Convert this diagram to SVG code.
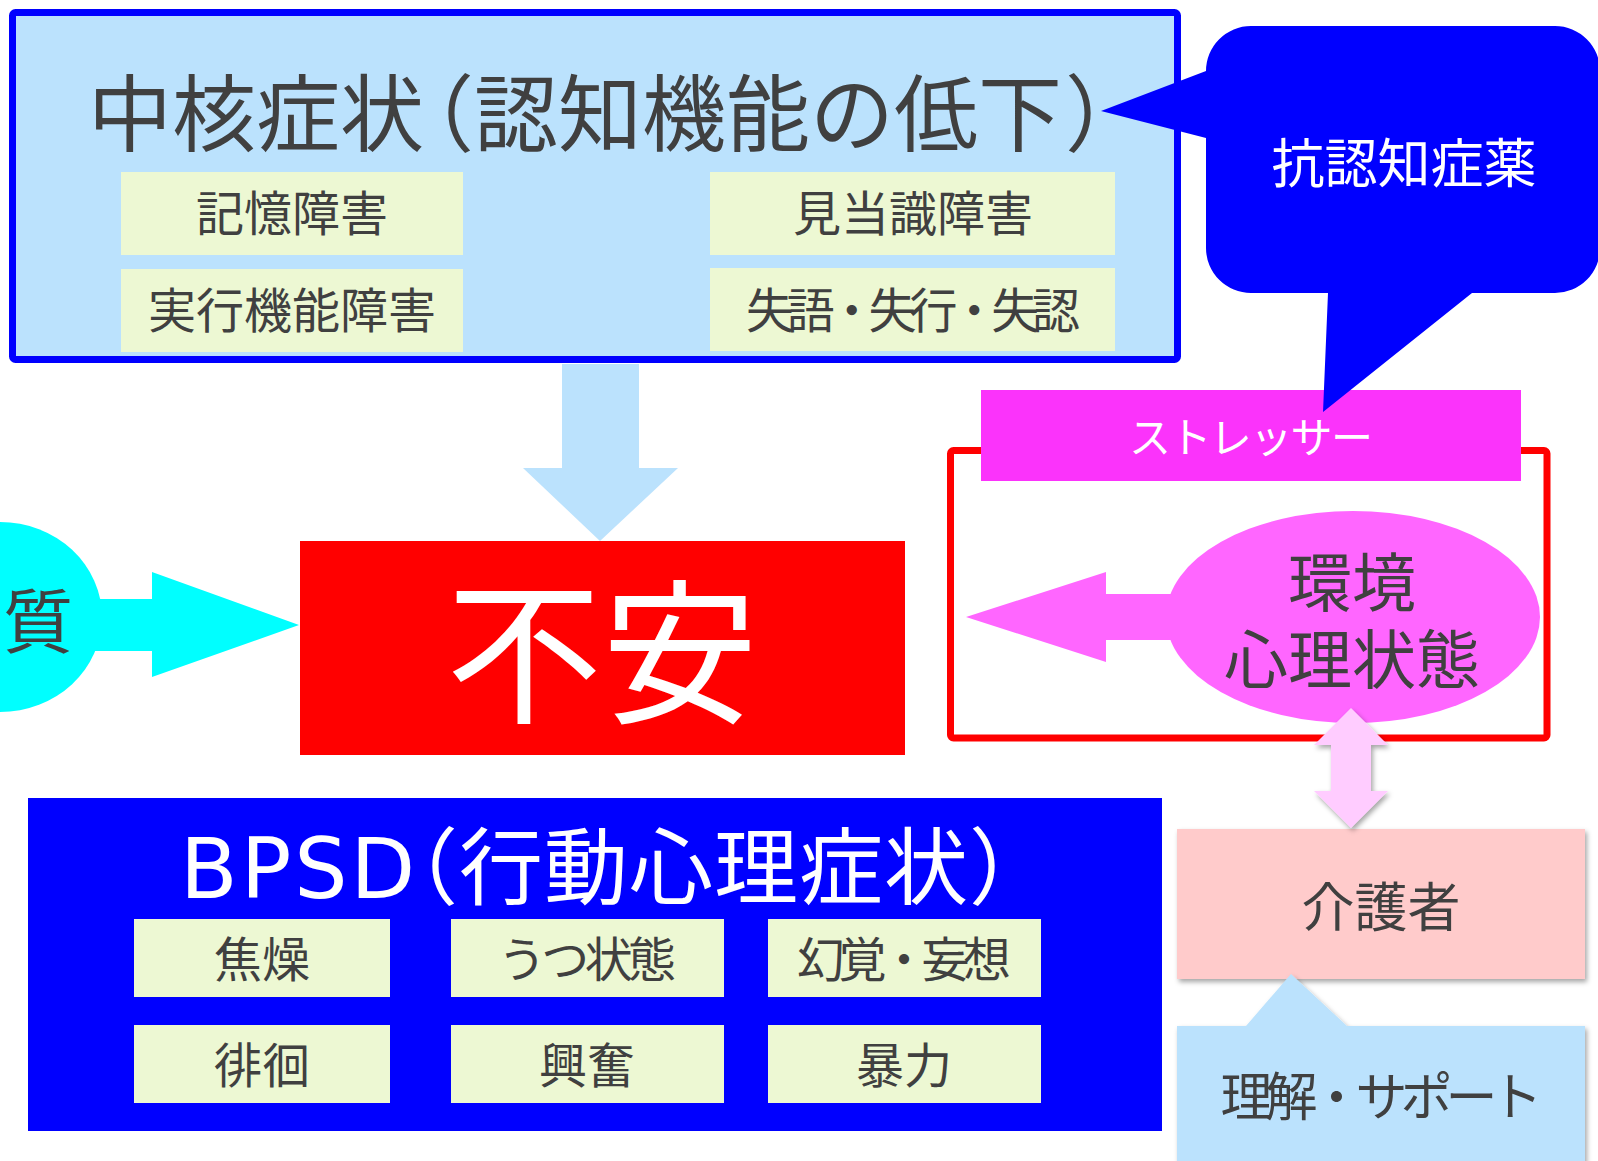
<svg xmlns="http://www.w3.org/2000/svg" width="1598" height="1161" viewBox="0 0 1598 1161">
<defs>
<style>
.t{font-family:"Noto Sans CJK JP","Noto Sans CJK SC",sans-serif;fill:#404040}
.w{fill:#FFFFFF}
.lb{fill:#BBE2FD}
.sub{fill:#EDF8D3}
.f48{font-size:48px}
.h{font-feature-settings:"halt" 1}
</style>
<filter id="sh" x="-10%" y="-10%" width="130%" height="130%">
<feDropShadow dx="2" dy="3" stdDeviation="2.5" flood-color="#000" flood-opacity="0.35"/>
</filter>
</defs>
<rect width="1598" height="1161" fill="#FFFFFF"/>

<g id="core">
<rect x="12.5" y="12.5" width="1165" height="347" rx="3" class="lb" stroke="#0000FF" stroke-width="7"/>
<text class="t" font-size="84" y="144.5"><tspan x="88">中核症状</tspan><tspan class="h" x="432">（</tspan><tspan x="474">認知機能の低下</tspan><tspan class="h" x="1065">）</tspan></text>
</g>
<g id="memory">
<rect x="121" y="172" width="342" height="83" class="sub"/>
<text class="t f48" x="292" y="230.5" text-anchor="middle">記憶障害</text>
</g>
<g id="executive">
<rect x="121" y="269" width="342" height="83" class="sub"/>
<text class="t f48" x="292" y="327.5" text-anchor="middle">実行機能障害</text>
</g>
<g id="orientation">
<rect x="710" y="172" width="405" height="83" class="sub"/>
<text class="t f48" x="913" y="230.5" text-anchor="middle">見当識障害</text>
</g>
<g id="aphasia">
<rect x="710" y="268" width="405" height="83" class="sub"/>
<text class="t f48" x="913" y="327.5" text-anchor="middle" textLength="334" lengthAdjust="spacing">失語・失行・失認</text>
</g>

<g id="frame">
<rect x="950.5" y="450.5" width="596.5" height="287.5" rx="3" fill="none" stroke="#FF0000" stroke-width="7"/>
</g>
<g id="stressor">
<rect x="981" y="390" width="540" height="91" fill="#FB33FB"/>
<text class="t w" font-size="42" x="1251" y="453" text-anchor="middle" textLength="244" lengthAdjust="spacing">ストレッサー</text>
</g>
<g id="environment">
<ellipse cx="1353" cy="617" rx="187" ry="106" fill="#FF66FF"/>
<text class="t" font-size="64" text-anchor="middle"><tspan x="1352" y="606">環境</tspan><tspan x="1352" y="683">心理状態</tspan></text>
</g>

<g id="medicine">
<path d="M1251,26 H1555 A45,45 0 0 1 1600,71 V248 A45,45 0 0 1 1555,293 H1472 L1323,412 L1328,293 H1251 A45,45 0 0 1 1206,248 V138 L1101,111 L1206,71 A45,45 0 0 1 1251,26 Z" fill="#0000FF"/>
<text class="t w" font-size="53" x="1404" y="182.5" text-anchor="middle">抗認知症薬</text>
</g>

<g id="anxiety">
<rect x="300" y="541" width="605" height="214" fill="#FF0000"/>
<text class="t w" font-size="156" x="602" y="711" text-anchor="middle">不安</text>
</g>

<g id="nature">
<ellipse cx="0" cy="617" rx="102" ry="95" fill="#00FFFF"/>
<text class="t" font-size="70" x="38" y="647.5" text-anchor="middle">質</text>
</g>

<g id="bpsd">
<rect x="28" y="798" width="1134" height="333" fill="#0000FF"/>
<text class="t w" font-size="84" y="898"><tspan x="180" font-family="DejaVu Sans, sans-serif" letter-spacing="3">BPSD</tspan><tspan class="h" x="416">（</tspan><tspan x="459" letter-spacing="1">行動心理症状</tspan><tspan class="h" x="969">）</tspan></text>
</g>
<g id="irritation">
<rect x="134" y="919" width="256" height="78" class="sub"/>
<text class="t f48" x="262" y="977" text-anchor="middle">焦燥</text>
</g>
<g id="depression">
<rect x="451" y="919" width="273" height="78" class="sub"/>
<text class="t f48" x="587" y="977" text-anchor="middle" textLength="178" lengthAdjust="spacing">うつ状態</text>
</g>
<g id="hallucination">
<rect x="768" y="919" width="273" height="78" class="sub"/>
<text class="t f48" x="904" y="977" text-anchor="middle" textLength="214" lengthAdjust="spacing">幻覚・妄想</text>
</g>
<g id="wandering">
<rect x="134" y="1025" width="256" height="78" class="sub"/>
<text class="t f48" x="262" y="1083" text-anchor="middle">徘徊</text>
</g>
<g id="excitement">
<rect x="451" y="1025" width="273" height="78" class="sub"/>
<text class="t f48" x="587" y="1083" text-anchor="middle">興奮</text>
</g>
<g id="violence">
<rect x="768" y="1025" width="273" height="78" class="sub"/>
<text class="t f48" x="904" y="1083" text-anchor="middle">暴力</text>
</g>

<g id="caregiver">
<rect x="1177" y="829" width="408" height="150" fill="#FFCBCB" filter="url(#sh)"/>
<text class="t" font-size="53" x="1381" y="926.5" text-anchor="middle">介護者</text>
</g>
<g id="support">
<path d="M1177,1026 H1246 L1291,974 L1347,1026 H1585 V1170 H1177 Z" class="lb" filter="url(#sh)"/>
<text class="t" font-size="52" x="1381.5" y="1116" text-anchor="middle" textLength="322" lengthAdjust="spacing">理解・サポート</text>
</g>

<g id="connectors">
<polygon points="562,364 639,364 639,468 678,468 600,541 523,468 562,468" class="lb"/>
<polygon points="90,599 152,599 152,572 299,625 152,677 152,651 90,651" fill="#00FFFF"/>
<polygon points="1175,594 1106,594 1106,572 966,617 1106,662 1106,640 1175,640" fill="#FF66FF"/>
<polygon points="1351,708 1388,745 1371,745 1371,791 1388,791 1351,828 1314,791 1331,791 1331,745 1314,745" fill="#FFCCFF" filter="url(#sh)"/>
</g>
</svg>
